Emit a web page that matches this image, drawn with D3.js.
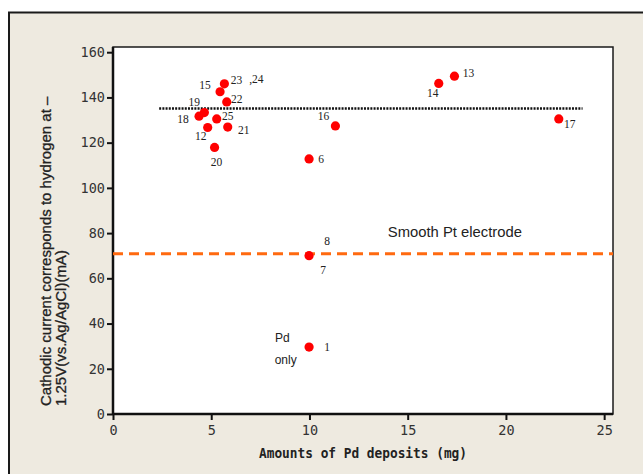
<!DOCTYPE html>
<html><head><meta charset="utf-8">
<script src="https://cdn.jsdelivr.net/npm/d3@7"></script>
<style>
html,body{margin:0;padding:0;background:#fff;}
svg{display:block;}
</style></head>
<body>
<svg id="chart" width="643" height="474"></svg>
<script>
// ---- data ----
const sampleIds = ["1","6","7","12","13","14","15","16","17","18","19","20","21","22","23","25"];
const pdMass    = [9.98, 9.98, 9.98, 4.82, 17.38, 16.58, 5.45, 11.32, 22.69, 4.38, 4.65, 5.17, 5.84, 5.79, 5.67, 5.28];
const current   = [29.6, 112.8, 70.0, 126.7, 149.4, 146.2, 142.5, 127.4, 130.5, 131.7, 133.3, 117.9, 126.9, 138.0, 146.0, 130.5];
const extraLabels = [{text:"8", attach:"7"}, {text:",24", attach:"23"}];
const xTicks = [0, 5, 10, 15, 20, 25];
const yTicks = [0, 20, 40, 60, 80, 100, 120, 140, 160];
const trendLine = {x0: 2.35, x1: 23.9, y: 135.1};
const smoothPt = 70.9;
const xTitle = "Amounts of Pd deposits (mg)";
const yTitle = ["Cathodic current corresponds to hydrogen at \u2013", "1.25V(vs.Ag/AgCl)(mA)"];

// ---- layout (label offsets in px) ----
const labelOffsets = {
  "1":[18,0], "6":[12,0], "7":[14,14], "8":[18,-15], "12":[-7,8], "13":[14,-3],
  "14":[-6,10], "15":[-15,-7], "23":[12,-4], ",24":[32,-5], "16":[-12,-10],
  "17":[11,5], "18":[-16,3], "19":[-10,-11], "20":[2,15], "21":[16,3], "22":[10,-3], "25":[11,-3]
};

const svg = d3.select("#chart");
// frame
svg.append("rect").attr("x",9).attr("y",12.5).attr("width",660).attr("height",480)
  .attr("fill","#EEEAE0").attr("stroke","#1a1a1a").attr("stroke-width",2);

const x = d3.scaleLinear().domain([0, 25.45]).range([113, 613]);
const y = d3.scaleLinear().domain([0, 162.3]).range([414, 47]);

// plot area
svg.append("rect").attr("x",x(0)).attr("y",y(162.3)).attr("width",x(25.45)-x(0)).attr("height",y(0)-y(162.3))
  .attr("fill","#fff").attr("stroke","#1a1a1a").attr("stroke-width",1.5);

// axes
const xAxis = svg.append("g").attr("transform",`translate(0,${y(0)})`)
  .call(d3.axisBottom(x).tickValues(xTicks).tickSize(6).tickPadding(5).tickFormat(d3.format("d")));
const yAxis = svg.append("g").attr("transform",`translate(${x(0)},0)`)
  .call(d3.axisLeft(y).tickValues(yTicks).tickSize(6).tickPadding(2).tickFormat(d3.format("d")));
[xAxis,yAxis].forEach(a=>{
  a.select(".domain").attr("stroke","#111").attr("stroke-width",2.5);
  a.selectAll(".tick line").attr("stroke","#111").attr("stroke-width",2);
  a.selectAll(".tick text").attr("fill","#333").attr("font-family","'DejaVu Sans Mono', monospace").attr("font-size",13.5);
});
xAxis.select(".domain").attr("d",`M${x(0)},0H${x(25.45)}`);
yAxis.select(".domain").attr("d",`M0,${y(0)}V${y(162.3)}`);

// reference lines
svg.append("line").attr("x1",x(0)).attr("x2",x(25.45)).attr("y1",y(smoothPt)).attr("y2",y(smoothPt))
  .attr("stroke","#FF6A10").attr("stroke-width",3).attr("stroke-dasharray","10,6");
svg.append("line").attr("x1",x(trendLine.x0)).attr("x2",x(trendLine.x1)).attr("y1",y(trendLine.y)).attr("y2",y(trendLine.y))
  .attr("stroke","#111").attr("stroke-width",2.5).attr("stroke-dasharray","2,1.2");

// points
const pts = sampleIds.map((id,i)=>({id, x:pdMass[i], y:current[i]}));
svg.append("g").selectAll("circle").data(pts).join("circle")
  .attr("cx",d=>x(d.x)).attr("cy",d=>y(d.y)).attr("r",4.6).attr("fill","#FF0000");

// labels
const labels = pts.map(p=>({text:p.id, x:p.x, y:p.y}))
  .concat(extraLabels.map(e=>{const p=pts.find(q=>q.id===e.attach);return {text:e.text,x:p.x,y:p.y};}));
svg.append("g").selectAll("text").data(labels).join("text")
  .attr("x",d=>x(d.x)+labelOffsets[d.text][0]).attr("y",d=>y(d.y)+labelOffsets[d.text][1])
  .attr("text-anchor","middle").attr("dominant-baseline","central")
  .attr("font-family","'Liberation Serif', serif").attr("font-size",11.5).attr("fill","#222")
  .text(d=>d.text);

// annotations
const ann = [
  {text:"Smooth Pt electrode", x:17.4, y:80.3, size:14.8},
  {text:"Pd", x:8.62, y:33.4, size:12},
  {text:"only", x:8.79, y:23.9, size:12}
];
svg.append("g").selectAll("text").data(ann).join("text")
  .attr("x",d=>x(d.x)).attr("y",d=>y(d.y)).attr("text-anchor","middle").attr("dominant-baseline","central")
  .attr("font-family","'Liberation Sans', Arial, sans-serif").attr("font-size",d=>d.size).attr("fill","#222")
  .text(d=>d.text);

// axis titles
svg.append("text").attr("x",363).attr("y",453).attr("text-anchor","middle").attr("dominant-baseline","central")
  .attr("font-family","'DejaVu Sans Mono', monospace").attr("font-weight","bold").attr("font-size",14.5)
  .attr("textLength",208).attr("lengthAdjust","spacingAndGlyphs").attr("fill","#222")
  .text(xTitle);
const yt = svg.append("text").attr("transform","rotate(-90)")
  .attr("font-family","'Liberation Sans', Arial, sans-serif").attr("font-size",15).attr("fill","#222")
  .attr("stroke","#222").attr("stroke-width",0.3);
yTitle.forEach((t,i)=>{
  yt.append("tspan").attr("x",-406).attr("y",51+i*15).text(t);
});
</script>
</body></html>
